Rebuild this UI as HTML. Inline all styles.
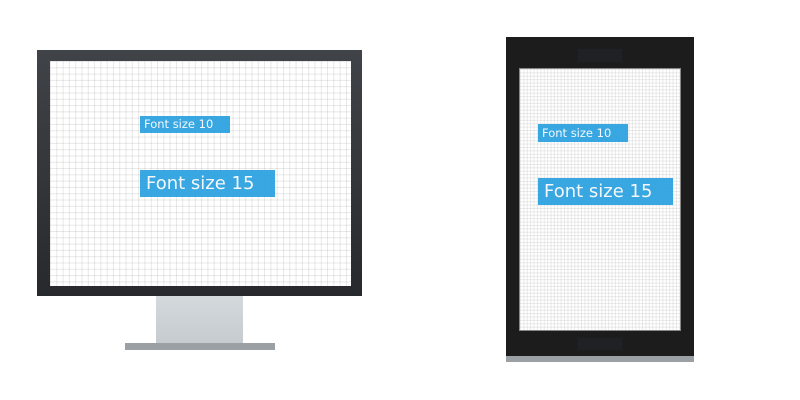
<!DOCTYPE html>
<html><head><style>
html,body{margin:0;padding:0;width:800px;height:400px;background:#fff;overflow:hidden;font-family:"DejaVu Sans","Liberation Sans",sans-serif}
.a{position:absolute}
.lbl{position:absolute;background:#2fa3e0;opacity:.95;color:#f4f9fd;white-space:nowrap;box-sizing:border-box}
</style></head><body>
<!-- monitor -->
<div class="a" style="left:37px;top:50px;width:325px;height:246px;background:linear-gradient(#404347,#28292d);"></div>
<div class="a" style="left:50px;top:61px;width:301px;height:225px;background-color:#fff;background-image:linear-gradient(90deg,rgba(0,0,0,.09) 1px,transparent 1px),linear-gradient(rgba(0,0,0,.09) 1px,transparent 1px);background-size:6.3px 6.3px;"></div>
<div class="a" style="left:156px;top:296px;width:87px;height:48px;background:linear-gradient(#d4d9dc,#c6cbd0);"></div>
<div class="a" style="left:125px;top:343px;width:150px;height:7px;background:#9ba0a5;"></div>
<div class="lbl" style="left:140px;top:116px;width:90px;height:17px;font-size:11.5px;line-height:17px;padding-left:4px">Font size 10</div>
<div class="lbl" style="left:140px;top:170px;width:135px;height:27px;font-size:18px;line-height:27px;padding-left:6px">Font size 15</div>
<!-- phone -->
<div class="a" style="left:506px;top:37px;width:188px;height:319px;background:#1c1c1c;"></div>
<div class="a" style="left:506px;top:356px;width:188px;height:6px;background:#9ba0a5;"></div>
<div class="a" style="left:578px;top:49px;width:44px;height:13px;background:#202124;"></div>
<div class="a" style="left:578px;top:338px;width:44px;height:12px;background:#202124;"></div>
<div class="a" style="left:519px;top:68px;width:162px;height:263px;background-color:#fff;border:1px solid #888;box-sizing:border-box;background-image:linear-gradient(90deg,rgba(0,0,0,.08) 1px,transparent 1px),linear-gradient(rgba(0,0,0,.08) 1px,transparent 1px);background-size:3.4px 3.4px;"></div>
<div class="lbl" style="left:538px;top:124px;width:90px;height:18px;font-size:11.5px;line-height:18px;padding-left:4px">Font size 10</div>
<div class="lbl" style="left:538px;top:178px;width:135px;height:27px;font-size:18px;line-height:27px;padding-left:6px">Font size 15</div>
</body></html>
